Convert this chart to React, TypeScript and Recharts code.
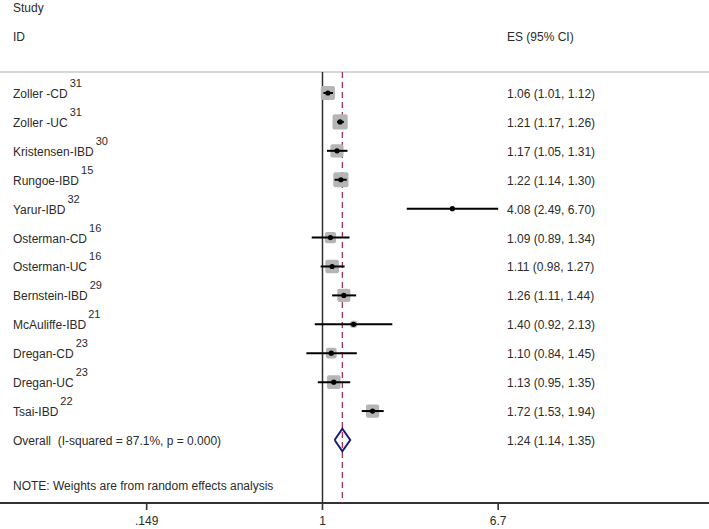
import React from 'react';
import { ComposedChart, Scatter, XAxis, YAxis, Customized } from 'recharts';

const studies = ['Zoller -CD', 'Zoller -UC', 'Kristensen-IBD', 'Rungoe-IBD', 'Yarur-IBD', 'Osterman-CD', 'Osterman-UC', 'Bernstein-IBD', 'McAuliffe-IBD', 'Dregan-CD', 'Dregan-UC', 'Tsai-IBD'];
const refs = ['31', '31', '30', '15', '32', '16', '16', '29', '21', '23', '23', '22'];
const es = [1.06, 1.21, 1.17, 1.22, 4.08, 1.09, 1.11, 1.26, 1.40, 1.10, 1.13, 1.72];
const lower = [1.01, 1.17, 1.05, 1.14, 2.49, 0.89, 0.98, 1.11, 0.92, 0.84, 0.95, 1.53];
const upper = [1.12, 1.26, 1.31, 1.30, 6.70, 1.34, 1.27, 1.44, 2.13, 1.45, 1.35, 1.94];
const weights = [10.8, 12.5, 9.3, 12.5, 0.5, 6.8, 10.0, 9.3, 2.7, 6.2, 10.0, 9.4];

const overallLabel = 'Overall  (I-squared = 87.1%, p = 0.000)';
const overallES = 1.24;
const overallLower = 1.14;
const overallUpper = 1.35;

const noteText = 'NOTE: Weights are from random effects analysis';
const xTicks = [0.149, 1, 6.7];
const xTickLabels = ['.149', '1', '6.7'];

const FONT = '"Liberation Sans", Arial, sans-serif';
const TEXT_COLOR = '#2b2b2b';
const AXIS_COLOR = '#333333';
const W = 709;
const H = 529;
const X_DOMAIN = [0.03044, 65.7];
const Y_DOMAIN = [-0.726, 14.18];
const DIAMOND_HALF = 0.39;
const SQUARE_K = 4.3;

const fmt = (v: number) => v.toFixed(2);

const studyRows = studies.map((name, i) => ({
  name,
  ref: refs[i],
  x: es[i],
  y: i,
  weight: weights[i],
  esText: `${fmt(es[i])} (${fmt(lower[i])}, ${fmt(upper[i])})`,
}));

const ciSegments = studies.map((_, i) => [
  { x: lower[i], y: i },
  { x: upper[i], y: i },
]);

const overallRow = {
  name: overallLabel,
  ref: '',
  x: overallES,
  y: studies.length,
  esText: `${fmt(overallES)} (${fmt(overallLower)}, ${fmt(overallUpper)})`,
};

const textRows = [...studyRows, overallRow];

const diamondData = [
  { x: overallLower, y: studies.length },
  { x: overallES, y: studies.length - DIAMOND_HALF },
  { x: overallUpper, y: studies.length },
  { x: overallES, y: studies.length + DIAMOND_HALF },
  { x: overallLower, y: studies.length },
];

const nullLine = [
  { x: 1, y: Y_DOMAIN[0] },
  { x: 1, y: Y_DOMAIN[1] },
];
const overallLine = [
  { x: overallES, y: Y_DOMAIN[0] },
  { x: overallES, y: Y_DOMAIN[1] },
];

const SquareShape = (props: any) => {
  const { cx, cy, payload } = props;
  if (cx == null || cy == null) return <g />;
  const s = SQUARE_K * Math.sqrt(payload.weight);
  return <rect x={cx - s / 2} y={cy - s / 2} width={s} height={s} rx={2} fill="#b5b5b5" />;
};

const DotShape = (props: any) => {
  const { cx, cy } = props;
  if (cx == null || cy == null) return <g />;
  return <circle cx={cx} cy={cy} r={2.6} fill="#000" />;
};

const EmptyShape = () => <g />;

const TextShape = (props: any) => {
  const { cy, payload } = props;
  if (cy == null) return <g />;
  return (
    <g fontFamily={FONT} fill={TEXT_COLOR}>
      <text x={13} y={cy + 5} fontSize={12} style={{ whiteSpace: 'pre' }}>
        {payload.name}
        {payload.ref ? (
          <tspan dx={2} dy={-11} fontSize={11}>
            {payload.ref}
          </tspan>
        ) : null}
      </text>
      <text x={507} y={cy + 5} fontSize={12}>
        {payload.esText}
      </text>
    </g>
  );
};

const AxisTick = (props: any) => {
  const { x, y, payload } = props;
  const label = xTickLabels[xTicks.indexOf(payload.value)] ?? String(payload.value);
  return (
    <g>
      <rect x={x - 0.8} y={y - 14} width={1.6} height={7} fill={AXIS_COLOR} />
      <text x={x} y={y + 8} textAnchor="middle" fontSize={12} fontFamily={FONT} fill={TEXT_COLOR}>
        {label}
      </text>
    </g>
  );
};

const Header = () => (
  <g fontFamily={FONT} fill={TEXT_COLOR} fontSize={12}>
    <text x={13} y={11.5}>Study</text>
    <text x={13} y={40.5}>ID</text>
    <text x={507} y={40.5}>ES (95% CI)</text>
    <line x1={0} x2={W} y1={72} y2={72} stroke="#d6d6d6" strokeWidth={2} />
    <text x={13} y={489.5}>{noteText}</text>
  </g>
);

export default function App() {
  return (
    <div style={{ position: 'absolute', left: 0, top: 0, width: W, height: H, background: '#fff' }}>
      <ComposedChart width={W} height={H} margin={{ top: 72, right: 0, bottom: 0, left: 0 }}>
        <XAxis
          dataKey="x"
          type="number"
          scale="log"
          domain={X_DOMAIN}
          allowDataOverflow
          ticks={xTicks}
          height={26}
          tickSize={6}
          tickMargin={8}
          axisLine={{ stroke: AXIS_COLOR, strokeWidth: 2 }}
          tickLine={false}
          tick={<AxisTick />}
        />
        <YAxis dataKey="y" type="number" domain={Y_DOMAIN} reversed hide allowDataOverflow />
        <Scatter data={nullLine} shape={EmptyShape} line={{ stroke: '#2e2e2e', strokeWidth: 1.5 }} lineType="joint" isAnimationActive={false} />
        <Scatter
          data={overallLine}
          shape={EmptyShape}
          line={{ stroke: '#a8324f', strokeWidth: 1.3, strokeDasharray: '6 4' }}
          lineType="joint"
          isAnimationActive={false}
        />
        <Scatter data={studyRows} shape={SquareShape} isAnimationActive={false} />
        {ciSegments.map((seg, i) => (
          <Scatter
            key={`ci-${i}`}
            data={seg}
            shape={EmptyShape}
            line={{ stroke: '#000', strokeWidth: 2 }}
            lineType="joint"
            isAnimationActive={false}
          />
        ))}
        <Scatter data={studyRows} shape={DotShape} isAnimationActive={false} />
        <Scatter
          data={diamondData}
          shape={EmptyShape}
          line={{ stroke: '#1c1c78', strokeWidth: 2 }}
          lineType="joint"
          isAnimationActive={false}
        />
        <Scatter data={textRows} shape={TextShape} isAnimationActive={false} />
        <Customized component={Header} />
      </ComposedChart>
    </div>
  );
}
